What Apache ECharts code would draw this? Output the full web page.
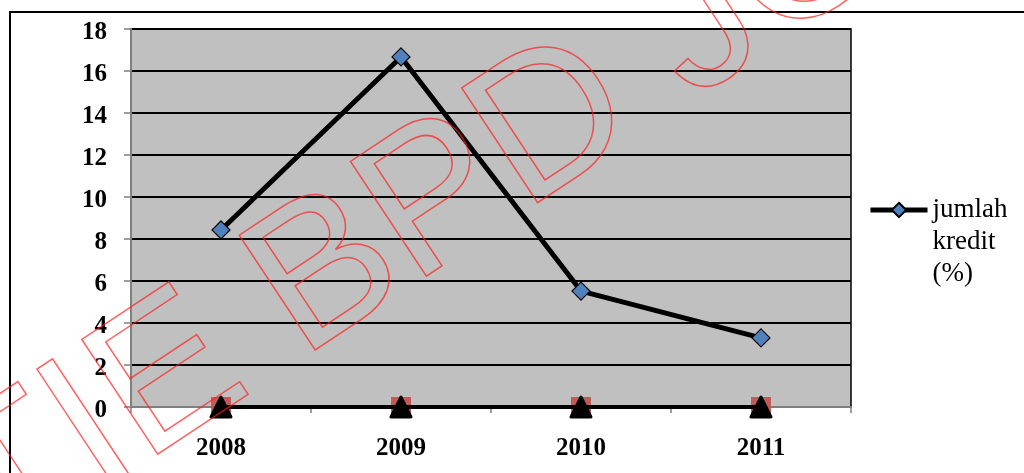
<!DOCTYPE html>
<html>
<head>
<meta charset="utf-8">
<script src="https://cdn.jsdelivr.net/npm/echarts@6/dist/echarts.min.js"></script>
<style>
  html, body { margin: 0; padding: 0; background: #ffffff; }
  #chart { width: 1024px; height: 473px; }
</style>
</head>
<body>
<div id="chart"></div>
<script>
// Categories and values
const years = ['2008', '2009', '2010', '2011'];
const jumlahKredit = [8.43, 16.67, 5.52, 3.29];
const seriesB = [0, 0, 0, 0];
const seriesC = [0, 0, 0, 0];
const yTicks = { min: 0, max: 18, interval: 2 };
const legendName = 'jumlah kredit (%)';
const watermarkText = 'STIE BPD JO';

const serif = '"Liberation Serif", "Times New Roman", serif';
const chart = echarts.init(document.getElementById('chart'), null, { renderer: 'canvas' });

const rot = 33.5 * Math.PI / 180;

chart.setOption({
  backgroundColor: '#ffffff',
  animation: false,
  grid: {
    left: 131, right: 173, top: 29, bottom: 66,
    show: true,
    backgroundColor: '#c0c0c0',
    borderColor: '#000000',
    borderWidth: 1.5
  },
  legend: {
    data: [legendName],
    left: 863,
    top: 125,
    orient: 'vertical',
    itemWidth: 57,
    itemHeight: 18,
    itemGap: 0,
    lineStyle: { width: 5, color: '#000000' },
    // two empty lines on top keep the first word level with the icon
    formatter: function () { return '\n\njumlah\nkredit\n(%)'; },
    textStyle: {
      fontFamily: serif,
      fontSize: 27,
      color: '#000000',
      lineHeight: 32
    }
  },
  xAxis: {
    type: 'category',
    data: years,
    boundaryGap: true,
    axisLine: { lineStyle: { color: '#808080', width: 2 } },
    axisTick: { show: true, alignWithLabel: false, length: 6, lineStyle: { color: '#808080', width: 1.5 } },
    axisLabel: { fontFamily: serif, fontWeight: 'bold', fontSize: 25, color: '#000000', margin: 29 },
    splitLine: { show: false }
  },
  yAxis: {
    type: 'value',
    min: yTicks.min,
    max: yTicks.max,
    interval: yTicks.interval,
    axisLine: { show: true, lineStyle: { color: '#808080', width: 2 } },
    axisTick: { show: true, length: 7, lineStyle: { color: '#808080', width: 1.5 } },
    axisLabel: {
      fontFamily: serif, fontWeight: 'bold', fontSize: 25, color: '#000000', margin: 24,
      verticalAlign: 'top', lineHeight: 7
    },
    splitLine: { show: true, lineStyle: { color: '#000000', width: 2 } }
  },
  series: [
    {
      name: 'seri B',
      type: 'line',
      data: seriesB,
      symbol: 'rect',
      symbolSize: 20,
      lineStyle: { width: 0, opacity: 0 },
      itemStyle: { color: '#c0504d', opacity: 0.9 },
      z: 2
    },
    {
      name: 'seri C',
      type: 'line',
      data: seriesC,
      symbol: 'triangle',
      symbolSize: [20, 20],
      lineStyle: { color: '#000000', width: 4 },
      itemStyle: { color: '#000000', borderColor: '#000000', borderWidth: 3, borderJoin: 'round' },
      z: 3
    },
    {
      name: legendName,
      type: 'line',
      data: jumlahKredit,
      symbol: 'diamond',
      symbolSize: 18,
      lineStyle: { color: '#000000', width: 5 },
      itemStyle: { color: '#4f81bd', borderColor: '#000000', borderWidth: 1.2 },
      z: 4
    }
  ],
  graphic: [
    {
      type: 'rect',
      shape: { x: 10, y: 12, width: 1100, height: 600 },
      style: { fill: 'none', stroke: '#000000', lineWidth: 2 },
      silent: true,
      z: 0
    },
    {
      type: 'text',
      x: -146,
      y: 589,
      rotation: rot,
      silent: true,
      z: 100,
      style: {
        text: watermarkText,
        font: '200px "Liberation Sans", Arial, sans-serif',
        fill: 'rgba(0,0,0,0)',
        stroke: 'rgba(255,30,30,0.7)',
        lineWidth: 1.5,
        textAlign: 'left',
        textVerticalAlign: 'middle'
      }
    }
  ]
});
</script>
</body>
</html>
